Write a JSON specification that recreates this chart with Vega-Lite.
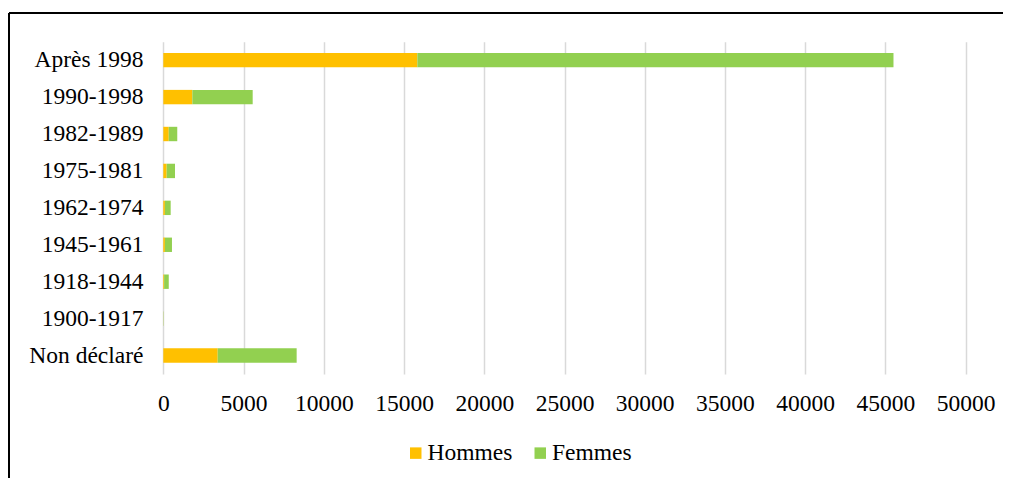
{
  "$schema": "https://vega.github.io/schema/vega-lite/v6.json",
  "autosize": {"type": "none"},
  "width": 996,
  "height": 465,
  "padding": {"left": 9, "top": 13, "right": 0, "bottom": 0},
  "background": "white",
  "config": {
    "view": {"stroke": "black", "strokeWidth": 2, "strokeDash": [994, 1463, 465, 0]},
    "font": "Liberation Serif"
  },
  "data": {
    "values": [
      {"periode": "Après 1998", "sexe": "Hommes", "ordre": 1, "n": 15830},
      {"periode": "Après 1998", "sexe": "Femmes", "ordre": 2, "n": 29670},
      {"periode": "1990-1998", "sexe": "Hommes", "ordre": 1, "n": 1810},
      {"periode": "1990-1998", "sexe": "Femmes", "ordre": 2, "n": 3760},
      {"periode": "1982-1989", "sexe": "Hommes", "ordre": 1, "n": 340},
      {"periode": "1982-1989", "sexe": "Femmes", "ordre": 2, "n": 530},
      {"periode": "1975-1981", "sexe": "Hommes", "ordre": 1, "n": 210},
      {"periode": "1975-1981", "sexe": "Femmes", "ordre": 2, "n": 520},
      {"periode": "1962-1974", "sexe": "Hommes", "ordre": 1, "n": 100},
      {"periode": "1962-1974", "sexe": "Femmes", "ordre": 2, "n": 360},
      {"periode": "1945-1961", "sexe": "Hommes", "ordre": 1, "n": 100},
      {"periode": "1945-1961", "sexe": "Femmes", "ordre": 2, "n": 440},
      {"periode": "1918-1944", "sexe": "Hommes", "ordre": 1, "n": 50},
      {"periode": "1918-1944", "sexe": "Femmes", "ordre": 2, "n": 290},
      {"periode": "1900-1917", "sexe": "Hommes", "ordre": 1, "n": 5},
      {"periode": "1900-1917", "sexe": "Femmes", "ordre": 2, "n": 15},
      {"periode": "Non déclaré", "sexe": "Hommes", "ordre": 1, "n": 3390},
      {"periode": "Non déclaré", "sexe": "Femmes", "ordre": 2, "n": 4920}
    ]
  },
  "mark": {"type": "bar"},
  "encoding": {
    "y": {
      "field": "periode",
      "type": "nominal",
      "sort": ["Après 1998", "1990-1998", "1982-1989", "1975-1981", "1962-1974", "1945-1961", "1918-1944", "1900-1917", "Non déclaré"],
      "scale": {"range": [28.7, 361], "paddingInner": 0.61, "paddingOuter": 0.305},
      "axis": {
        "title": null,
        "domain": false,
        "ticks": false,
        "labelPadding": -134,
        "labelFont": "Liberation Serif",
        "labelFontSize": 23.5,
        "labelColor": "black"
      }
    },
    "x": {
      "field": "n",
      "type": "quantitative",
      "stack": "zero",
      "scale": {"domain": [0, 50000], "range": [154.3, 956.7], "nice": false},
      "axis": {
        "title": null,
        "orient": "top",
        "values": [0, 5000, 10000, 15000, 20000, 25000, 30000, 35000, 40000, 45000, 50000],
        "format": "d",
        "domain": false,
        "ticks": false,
        "grid": true,
        "gridColor": "#D9D9D9",
        "gridWidth": 1.5,
        "labelBaseline": "alphabetic",
        "labelPadding": -397,
        "labelFont": "Liberation Serif",
        "labelFontSize": 23.5,
        "labelColor": "black",
        "labelFlush": false
      }
    },
    "color": {
      "field": "sexe",
      "type": "nominal",
      "scale": {"domain": ["Hommes", "Femmes"], "range": ["#FFC000", "#92D050"]},
      "legend": {
        "title": null,
        "orient": "none",
        "legendX": 395,
        "legendY": 428,
        "direction": "horizontal",
        "symbolType": "square",
        "symbolSize": 132,
        "symbolStrokeWidth": 0,
        "labelFont": "Liberation Serif",
        "labelFontSize": 23.5,
        "labelColor": "black",
        "labelOffset": 0,
        "columnPadding": 15.5,
        "padding": 0
      }
    },
    "order": {"field": "ordre", "type": "quantitative"}
  }
}
